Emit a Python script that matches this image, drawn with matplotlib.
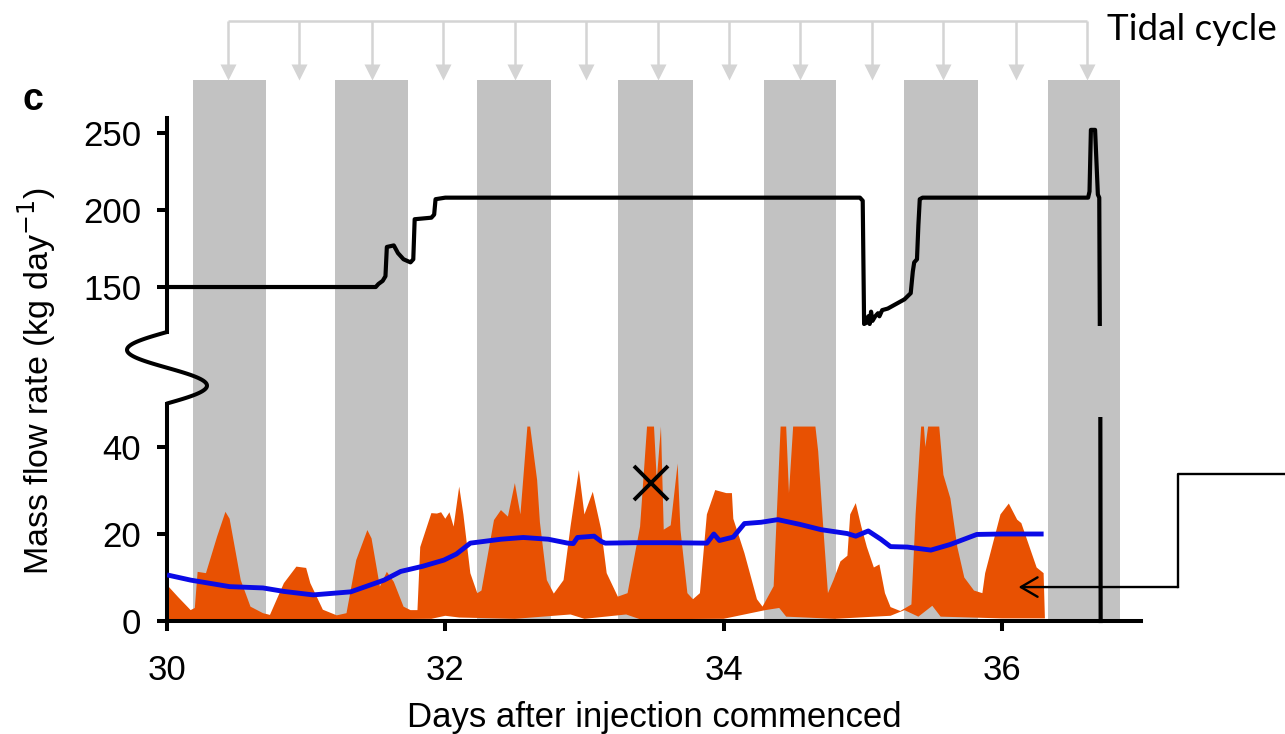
import numpy as np
import matplotlib
matplotlib.use("Agg")
import matplotlib.pyplot as plt
from matplotlib.lines import Line2D
from matplotlib.patches import Rectangle

# ---------------- data ----------------
# injection rate (upper panel, kg/day)
inj_day = [30.00, 31.50, 31.52, 31.55, 31.57, 31.58, 31.63, 31.66, 31.70, 31.75, 31.77,
           31.78, 31.90, 31.92, 31.93, 32.00, 34.98, 35.00, 35.01, 35.03, 35.04, 35.05,
           35.06, 35.07, 35.09, 35.11, 35.12, 35.14, 35.18, 35.24, 35.30, 35.345, 35.36,
           35.37, 35.39, 35.40, 35.41, 35.43, 36.62, 36.63, 36.64, 36.67, 36.69, 36.70, 36.71]
inj_rate = [150, 150, 152, 154, 157, 176, 177, 172, 168, 166, 168,
            194, 195, 197, 207, 208, 208, 206, 126, 127, 131, 126,
            134, 128, 131, 133, 131, 135, 136, 139, 142, 146, 160,
            166, 168, 190, 207, 208, 208, 212, 252, 252, 210, 208, 0]

# leakage signal: upper envelope
leak_hi_day = [30.00, 30.08, 30.17, 30.20, 30.22, 30.28, 30.36, 30.42, 30.45, 30.53, 30.60,
               30.69, 30.74, 30.84, 30.93, 31.00, 31.03, 31.12, 31.22, 31.29, 31.36, 31.44,
               31.47, 31.53, 31.58, 31.63, 31.70, 31.75, 31.80, 31.82, 31.90, 31.94, 31.97,
               32.00, 32.03, 32.06, 32.10, 32.13, 32.18, 32.23, 32.26, 32.35, 32.40, 32.45,
               32.50, 32.54, 32.59, 32.61, 32.66, 32.68, 32.73, 32.78, 32.85, 32.90, 32.96,
               33.00, 33.06, 33.12, 33.16, 33.24, 33.31, 33.40, 33.45, 33.50, 33.52, 33.55,
               33.57, 33.62, 33.67, 33.69, 33.74, 33.78, 33.83, 33.88, 33.94, 34.02, 34.06,
               34.07, 34.15, 34.24, 34.28, 34.36, 34.41, 34.45, 34.47, 34.50, 34.66, 34.68,
               34.71, 34.75, 34.79, 34.84, 34.89, 34.91, 34.95, 34.99, 35.03, 35.08, 35.12,
               35.16, 35.20, 35.27, 35.35, 35.38, 35.42, 35.44, 35.45, 35.47, 35.55, 35.58,
               35.63, 35.68, 35.73, 35.80, 35.86, 35.88, 35.99, 36.05, 36.11, 36.14, 36.21,
               36.25, 36.30, 36.31]
leak_hi = [8.3, 5.5, 2.5, 3.0, 11.3, 11.0, 19.4, 25.1, 23.5, 9.4, 3.3,
           1.8, 1.4, 8.7, 12.5, 12.2, 8.7, 2.6, 1.3, 1.8, 14.0, 20.9,
           19.0, 7.9, 11.3, 9.0, 3.3, 2.5, 2.5, 17.0, 24.8, 24.7, 25.0,
           23.5, 25.0, 21.7, 30.9, 24.5, 11.0, 6.4, 7.0, 23.2, 25.5, 24.0,
           31.7, 24.5, 44.7, 44.7, 32.4, 22.7, 9.4, 6.3, 9.4, 21.7, 34.7,
           24.5, 29.7, 21.1, 11.0, 5.6, 6.4, 21.7, 44.7, 44.7, 32.4, 44.7,
           21.0, 22.0, 36.2, 21.0, 6.4, 5.0, 6.4, 24.5, 30.1, 29.4, 29.4,
           23.5, 15.6, 5.0, 3.3, 8.0, 44.7, 44.7, 29.4, 44.7, 44.7, 39.0,
           24.5, 6.4, 9.4, 13.7, 15.0, 24.5, 27.1, 21.7, 17.0, 12.3, 13.0,
           6.4, 3.2, 2.3, 3.8, 24.5, 44.7, 44.7, 40.0, 44.7, 44.7, 33.6,
           28.2, 17.0, 10.0, 7.0, 6.4, 11.0, 24.5, 27.0, 23.3, 22.5, 16.0,
           12.3, 11.0, 0.0]

# leakage signal: lower envelope
leak_lo_day = [30.00, 30.50, 31.00, 31.90, 32.00, 32.10, 32.50, 32.90, 33.00, 33.30, 33.40,
               34.00, 34.30, 34.40, 34.45, 34.80, 35.20, 35.30, 35.40, 35.50, 35.56, 36.00, 36.31]
leak_lo = [0.0, 0.3, 0.3, 0.5, 1.2, 0.8, 0.5, 1.5, 0.5, 1.5, 0.4,
           0.5, 2.5, 3.0, 1.0, 0.5, 1.2, 2.5, 1.0, 3.5, 1.0, 0.6, 0.6]

# smoothed leakage rate
mean_day = [30.00, 30.17, 30.45, 30.69, 30.84, 31.05, 31.32, 31.56, 31.68, 31.84, 31.99,
            32.08, 32.18, 32.40, 32.56, 32.74, 32.88, 32.92, 32.95, 33.07, 33.12, 33.15,
            33.36, 33.60, 33.88, 33.93, 33.97, 34.07, 34.15, 34.27, 34.39, 34.55, 34.70,
            34.89, 34.95, 35.04, 35.13, 35.20, 35.32, 35.49, 35.63, 35.82, 36.00, 36.30]
mean_rate = [10.6, 9.4, 7.9, 7.6, 6.8, 6.0, 6.7, 9.4, 11.4, 12.6, 14.0,
             15.4, 17.9, 18.8, 19.2, 18.8, 17.9, 17.8, 19.2, 19.5, 18.3, 17.9,
             18.0, 18.0, 17.9, 20.0, 18.5, 19.3, 22.4, 22.7, 23.3, 22.2, 21.0,
             20.1, 19.5, 20.7, 18.8, 17.1, 17.0, 16.3, 17.6, 19.9, 20.0, 20.0]

# marked point
marker_day, marker_rate = 33.48, 31.8

# low-tide periods (shaded)
band_start = [30.19, 31.21, 32.23, 33.24, 34.29, 35.30, 36.33]
band_end = [30.71, 31.73, 32.76, 33.78, 34.81, 35.83, 36.85]

# high-water times
tide_times = [30.44, 30.95, 31.47, 31.98, 32.50, 33.01, 33.53, 34.04, 34.55,
              35.07, 35.58, 36.10, 36.61]

x_ticks = [30, 32, 34, 36]
lower_ticks = [0, 20, 40]
upper_ticks = [150, 200, 250]

# ---------------- layout ----------------
W, H = 1285, 734
DPI = 100
fig = plt.figure(figsize=(W / DPI, H / DPI), dpi=DPI)
fig.patch.set_facecolor("white")
plt.rcParams["font.family"] = ["Liberation Sans", "DejaVu Sans"]


def rect(left, top, right, bottom):
    return [left / W, 1 - bottom / H, (right - left) / W, (bottom - top) / H]


AX_L, AX_R = 167, 1141
LOW_TOP, LOW_BOT = 403.5, 621
UP_TOP, UP_BOT = 118, 332

ORANGE = "#E85102"
BLUE = "#0A0AE6"
GREY = "#C2C2C2"
ARROW_GREY = "#D4D4D4"
LW_AX = 2.9
FS = 25

# shaded bands (behind everything)
ax_bg = fig.add_axes(rect(AX_L, 80, AX_R, LOW_BOT))
ax_bg.set_xlim(30, 37)
ax_bg.set_ylim(0, 1)
ax_bg.axis("off")
for s, e in zip(band_start, band_end):
    ax_bg.axvspan(s, e, color=GREY, lw=0)

ax_up = fig.add_axes(rect(AX_L, UP_TOP, AX_R, UP_BOT))
ax_lo = fig.add_axes(rect(AX_L, LOW_TOP, AX_R, LOW_BOT))
for ax in (ax_up, ax_lo):
    ax.patch.set_alpha(0)
    ax.set_xlim(30, 37)
    for side in ("top", "right"):
        ax.spines[side].set_visible(False)
    ax.spines["left"].set_linewidth(LW_AX)
    ax.spines["bottom"].set_linewidth(LW_AX)
    ax.tick_params(width=LW_AX, length=7.5, labelsize=FS)
    ax.tick_params(axis="y", pad=11)

ax_up.set_ylim(120.8, 259.7)
ax_up.spines["bottom"].set_visible(False)
ax_up.set_xticks([])
ax_up.set_yticks(upper_ticks)

ax_lo.set_ylim(0, 50)
ax_lo.set_yticks(lower_ticks)
ax_lo.set_xticks(x_ticks)
ax_lo.tick_params(axis="x", pad=16)
ax_lo.set_xlabel("Days after injection commenced", fontsize=FS, labelpad=10)

# leakage envelope
poly_x = np.r_[leak_hi_day, leak_lo_day[::-1]]
poly_y = np.r_[leak_hi, leak_lo[::-1]]
ax_lo.fill(poly_x, poly_y, color=ORANGE, lw=0, zorder=2)

# smoothed rate
ax_lo.plot(mean_day, mean_rate, color=BLUE, lw=3.5, zorder=3,
           solid_capstyle="butt", solid_joinstyle="round")

# marked point
ax_lo.plot([marker_day], [marker_rate], marker="x", color="black", ms=24, mew=2.8, zorder=4)

# injection rate, drawn in both panels
up_line, = ax_up.plot(inj_day, inj_rate, color="black", lw=3.0, zorder=3,
                      solid_joinstyle="round")
up_line.set_clip_path(Rectangle((30, 125), 7.5, 140, transform=ax_up.transData))
lo_line, = ax_lo.plot(inj_day, inj_rate, color="black", lw=3.0, zorder=3)
lo_line.set_clip_path(Rectangle((30, -1), 7.5, 48, transform=ax_lo.transData))

# axis break on the left spine
t = np.linspace(0, 1, 80)
bx = AX_L + 40 * np.sin(2 * np.pi * t)
by = LOW_TOP - (LOW_TOP - UP_BOT) * t
fig.add_artist(Line2D(bx / W, 1 - by / H, color="black", lw=LW_AX,
                      transform=fig.transFigure, solid_capstyle="round"))

# y label and panel letter
fig.text(37, H - 381, "Mass flow rate (kg day$^{-1}$)", rotation=90, fontsize=24.5,
         ha="center", va="center", transform=None)
fig.text(33 / W, 1 - 100 / H, "c", fontsize=27, fontweight="bold",
         ha="center", va="center")

# tidal cycle markers
ax_tide = fig.add_axes(rect(AX_L, 0, AX_R, 80))
ax_tide.set_xlim(30, 37)
ax_tide.set_ylim(80, 0)
ax_tide.axis("off")
ax_tide.plot([tide_times[0], tide_times[-1]], [21, 21], color=ARROW_GREY, lw=1.8,
             solid_capstyle="butt")
ax_tide.vlines(tide_times, 21, 70, color=ARROW_GREY, lw=1.8)
ax_tide.plot(tide_times, [72] * len(tide_times), ls="none", marker="v", ms=11,
             color=ARROW_GREY, mec="none")
fig.text(1107 / W, 1 - 29 / H, "Tidal cycle", fontsize=26.5, family="Lato",
         ha="left", va="center")

# pointer to the leakage signal
fig.add_artist(Line2D(np.array([1285, 1178, 1178]) / W,
                      1 - np.array([474, 474, 587]) / H,
                      color="black", lw=1.7, transform=fig.transFigure))
ax_lo.annotate("", xy=(36.12, 7.8), xycoords="data",
               xytext=(1178, H - 587), textcoords="figure pixels",
               arrowprops=dict(arrowstyle="->,head_length=1.2,head_width=0.7",
                               lw=1.7, color="black", shrinkA=0, shrinkB=0),
               zorder=6)

fig.savefig("out.png", dpi=DPI, facecolor="white")
